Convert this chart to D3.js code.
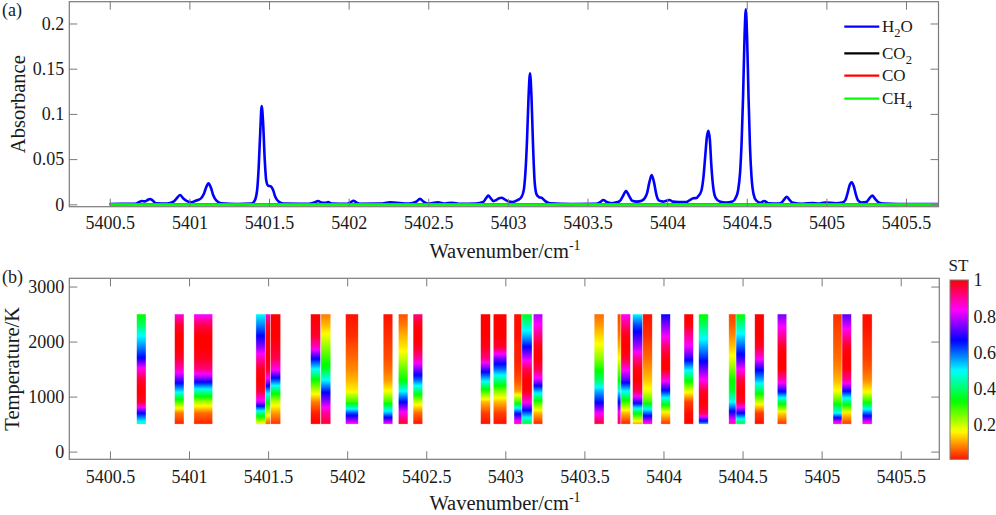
<!DOCTYPE html>
<html>
<head>
<meta charset="utf-8">
<title>Absorbance and ST</title>
<script src="https://d3js.org/d3.v7.min.js"></script>
<style>
  body { margin: 0; background: #fff; }
  svg text { font-family: "Liberation Serif", "Times New Roman", serif; fill: #1a1a1a; }
</style>
</head>
<body>
<div id="chart"></div>
<script>
// ---- data ----
const wnTicks = [5400.5, 5401, 5401.5, 5402, 5402.5, 5403, 5403.5, 5404, 5404.5, 5405, 5405.5];
const absTicks = [0, 0.05, 0.1, 0.15, 0.2];
const tempTicks = [0, 1000, 2000, 3000];
const stTicks = [0.2, 0.4, 0.6, 0.8, 1];

const species = ["H2O", "CO2", "CO", "CH4"];
const speciesColor = ["#0000ff", "#000000", "#ff0000", "#00ff00"];
const speciesLabel = [["H", "2", "O"], ["CO", "2", ""], ["CO", "", ""], ["CH", "4", ""]];

// H2O absorbance [wavenumber, absorbance]
const h2o = [
  [5400.50, 0.0004], [5400.66, 0.0006], [5400.685, 0.0025], [5400.701, 0.0036], [5400.722, 0.0032],
  [5400.740, 0.0050], [5400.753, 0.0059], [5400.768, 0.0045], [5400.790, 0.0012], [5400.860, 0.0008],
  [5400.900, 0.0030], [5400.920, 0.0065], [5400.941, 0.0103], [5400.962, 0.0065], [5400.985, 0.0035],
  [5401.015, 0.0022], [5401.040, 0.0040], [5401.058, 0.0050], [5401.075, 0.0070], [5401.092, 0.0120],
  [5401.105, 0.0185], [5401.120, 0.0232], [5401.135, 0.0185], [5401.150, 0.0100], [5401.170, 0.0040],
  [5401.200, 0.0012], [5401.300, 0.0004], [5401.390, 0.0008], [5401.410, 0.0040], [5401.425, 0.0150],
  [5401.435, 0.0400], [5401.445, 0.0800], [5401.454, 0.1087], [5401.463, 0.0900], [5401.473, 0.0500],
  [5401.483, 0.0260], [5401.495, 0.0205], [5401.510, 0.0200], [5401.525, 0.0160], [5401.540, 0.0080],
  [5401.560, 0.0030], [5401.590, 0.0008], [5401.750, 0.0006], [5401.790, 0.0022], [5401.808, 0.0037],
  [5401.830, 0.0020], [5401.855, 0.0018], [5401.871, 0.0025], [5401.895, 0.0008], [5401.990, 0.0006],
  [5402.015, 0.0025], [5402.030, 0.0040], [5402.048, 0.0022], [5402.070, 0.0006], [5402.200, 0.0008],
  [5402.260, 0.0022], [5402.380, 0.0008], [5402.425, 0.0030], [5402.448, 0.0060], [5402.470, 0.0030],
  [5402.495, 0.0008], [5402.561, 0.0022], [5402.605, 0.0008], [5402.649, 0.0018], [5402.700, 0.0006],
  [5402.800, 0.0008], [5402.845, 0.0025], [5402.862, 0.0065], [5402.877, 0.0096], [5402.893, 0.0065],
  [5402.910, 0.0035], [5402.925, 0.0045], [5402.945, 0.0068], [5402.961, 0.0073], [5402.980, 0.0055],
  [5403.005, 0.0030], [5403.030, 0.0025], [5403.060, 0.0045], [5403.085, 0.0080], [5403.100, 0.0160],
  [5403.110, 0.0350], [5403.120, 0.0700], [5403.130, 0.1200], [5403.139, 0.1450], [5403.148, 0.1200],
  [5403.158, 0.0650], [5403.168, 0.0250], [5403.180, 0.0110], [5403.195, 0.0080], [5403.213, 0.0070],
  [5403.235, 0.0035], [5403.265, 0.0010], [5403.400, 0.0004], [5403.550, 0.0006], [5403.580, 0.0025],
  [5403.599, 0.0048], [5403.620, 0.0025], [5403.650, 0.0012], [5403.690, 0.0025], [5403.705, 0.0040],
  [5403.722, 0.0090], [5403.742, 0.0147], [5403.762, 0.0090], [5403.780, 0.0040], [5403.810, 0.0030],
  [5403.840, 0.0040], [5403.860, 0.0070], [5403.875, 0.0130], [5403.888, 0.0240], [5403.903, 0.0324],
  [5403.918, 0.0240], [5403.932, 0.0110], [5403.950, 0.0040], [5403.975, 0.0030], [5404.000, 0.0042],
  [5404.014, 0.0048], [5404.035, 0.0030], [5404.070, 0.0025], [5404.120, 0.0025], [5404.145, 0.0050],
  [5404.164, 0.0066], [5404.185, 0.0070], [5404.195, 0.0090], [5404.215, 0.0150], [5404.228, 0.0300],
  [5404.240, 0.0550], [5404.250, 0.0750], [5404.259, 0.0814], [5404.268, 0.0720], [5404.278, 0.0420],
  [5404.290, 0.0180], [5404.305, 0.0070], [5404.330, 0.0030], [5404.370, 0.0020], [5404.410, 0.0030],
  [5404.430, 0.0070], [5404.445, 0.0150], [5404.458, 0.0350], [5404.468, 0.0700], [5404.477, 0.1200],
  [5404.486, 0.1850], [5404.494, 0.2157], [5404.502, 0.1850], [5404.511, 0.1200], [5404.520, 0.0650],
  [5404.530, 0.0300], [5404.543, 0.0110], [5404.560, 0.0040], [5404.585, 0.0018], [5404.610, 0.0036],
  [5404.635, 0.0012], [5404.700, 0.0008], [5404.725, 0.0030], [5404.738, 0.0060], [5404.751, 0.0084],
  [5404.766, 0.0055], [5404.785, 0.0020], [5404.850, 0.0006], [5404.916, 0.0015], [5404.950, 0.0008],
  [5404.992, 0.0020], [5405.060, 0.0012], [5405.100, 0.0020], [5405.120, 0.0050], [5405.134, 0.0130],
  [5405.146, 0.0210], [5405.159, 0.0243], [5405.172, 0.0200], [5405.185, 0.0110], [5405.200, 0.0040],
  [5405.220, 0.0020], [5405.250, 0.0025], [5405.268, 0.0060], [5405.288, 0.0096], [5405.306, 0.0060],
  [5405.325, 0.0025], [5405.360, 0.0008], [5405.450, 0.0004], [5405.700, 0.0004]
];
const co2 = [[5400.50, 0.0001], [5403.10, 0.0001], [5405.70, 0.0001]];
const co = [[5400.50, 0.0001], [5403.10, 0.0001], [5405.70, 0.0001]];
const ch4 = [[5400.50, 0.0000], [5403.10, 0.0000], [5405.70, 0.0000]];
const spectra = [h2o, co2, co, ch4];

// lower panel: line strips, edges in cm-1, ST sampled from 2500 K down to 500 K
const barTemps = [2500, 2300, 2100, 1900, 1700, 1500, 1300, 1100, 900, 700, 500];
const barLeft = [5400.669, 5400.909, 5401.031, 5401.423, 5401.482, 5401.516, 5401.769, 5401.834,
  5401.990, 5402.228, 5402.324, 5402.417, 5402.844, 5402.924, 5403.055, 5403.105, 5403.177,
  5403.562, 5403.709, 5403.731, 5403.805, 5403.869, 5403.984, 5404.130, 5404.223, 5404.413,
  5404.459, 5404.577, 5404.720, 5405.072, 5405.129, 5405.257];
const barRight = [5400.728, 5400.968, 5401.149, 5401.482, 5401.516, 5401.579, 5401.832, 5401.896,
  5402.070, 5402.288, 5402.384, 5402.477, 5402.905, 5403.009, 5403.105, 5403.169, 5403.236,
  5403.624, 5403.731, 5403.791, 5403.869, 5403.929, 5404.043, 5404.189, 5404.283, 5404.459,
  5404.517, 5404.636, 5404.779, 5405.129, 5405.188, 5405.319];
const barST = [
  [0.33, 0.40, 0.50, 0.58, 0.67, 0.85, 0.97, 1.00, 0.97, 0.67, 0.45],
  [0.85, 0.97, 1.00, 1.00, 0.97, 0.88, 0.72, 0.52, 0.28, 0.08, 0.02],
  [0.82, 0.95, 1.00, 1.00, 0.98, 0.92, 0.72, 0.45, 0.22, 0.07, 0.02],
  [0.50, 0.58, 0.67, 0.76, 0.88, 0.98, 1.00, 0.97, 0.80, 0.42, 0.15],
  [0.85, 0.97, 1.00, 1.00, 1.00, 0.98, 0.80, 0.55, 0.35, 0.20, 0.05],
  [1.00, 1.00, 1.00, 0.98, 0.95, 0.85, 0.62, 0.38, 0.20, 0.10, 0.03],
  [1.00, 0.99, 0.97, 0.87, 0.68, 0.50, 0.33, 0.20, 0.08, 0.02, 0.00],
  [0.08, 0.12, 0.18, 0.24, 0.30, 0.36, 0.50, 0.65, 0.77, 0.90, 0.97],
  [0.01, 0.02, 0.03, 0.05, 0.07, 0.09, 0.12, 0.16, 0.30, 0.62, 0.85],
  [0.01, 0.02, 0.03, 0.04, 0.05, 0.07, 0.10, 0.17, 0.30, 0.55, 0.85],
  [0.05, 0.08, 0.12, 0.15, 0.20, 0.27, 0.33, 0.50, 0.67, 0.85, 0.98],
  [0.92, 0.99, 1.00, 0.98, 0.90, 0.75, 0.60, 0.40, 0.20, 0.07, 0.01],
  [1.00, 1.00, 1.00, 0.98, 0.92, 0.72, 0.52, 0.30, 0.12, 0.04, 0.01],
  [1.00, 1.00, 1.00, 0.97, 0.75, 0.60, 0.42, 0.25, 0.12, 0.04, 0.01],
  [0.01, 0.01, 0.01, 0.02, 0.02, 0.03, 0.05, 0.10, 0.30, 0.65, 0.90],
  [0.35, 0.45, 0.55, 0.67, 0.80, 0.95, 1.00, 0.99, 0.85, 0.60, 0.35],
  [0.78, 0.84, 0.92, 0.99, 1.00, 0.95, 0.80, 0.55, 0.30, 0.12, 0.02],
  [0.07, 0.10, 0.14, 0.18, 0.24, 0.32, 0.40, 0.55, 0.66, 0.83, 0.97],
  [0.05, 0.06, 0.08, 0.12, 0.17, 0.25, 0.33, 0.50, 0.67, 0.85, 0.95],
  [0.83, 0.92, 0.99, 1.00, 0.97, 0.85, 0.72, 0.50, 0.30, 0.12, 0.02],
  [0.50, 0.62, 0.70, 0.78, 0.90, 0.99, 1.00, 0.95, 0.70, 0.35, 0.10],
  [0.01, 0.02, 0.03, 0.05, 0.07, 0.10, 0.13, 0.18, 0.30, 0.60, 0.88],
  [0.67, 0.75, 0.83, 0.93, 0.99, 1.00, 0.85, 0.65, 0.40, 0.15, 0.03],
  [1.00, 0.99, 0.90, 0.82, 0.70, 0.52, 0.35, 0.18, 0.04, 0.01, 0.00],
  [0.33, 0.40, 0.48, 0.56, 0.64, 0.74, 0.84, 0.97, 1.00, 0.95, 0.55],
  [0.04, 0.06, 0.09, 0.13, 0.18, 0.25, 0.33, 0.37, 0.50, 0.70, 0.90],
  [0.33, 0.43, 0.52, 0.61, 0.70, 0.83, 0.96, 1.00, 0.97, 0.67, 0.35],
  [1.00, 1.00, 1.00, 0.97, 0.85, 0.68, 0.55, 0.38, 0.20, 0.04, 0.01],
  [0.74, 0.82, 0.90, 0.98, 1.00, 1.00, 0.88, 0.68, 0.38, 0.14, 0.03],
  [0.03, 0.04, 0.05, 0.06, 0.07, 0.09, 0.12, 0.17, 0.30, 0.50, 0.90],
  [0.72, 0.80, 0.90, 0.98, 1.00, 0.99, 0.90, 0.67, 0.40, 0.15, 0.03],
  [0.01, 0.01, 0.02, 0.03, 0.04, 0.06, 0.09, 0.16, 0.32, 0.60, 0.88]
];

// ---- setup ----
const width = 996, height = 515;
const axisColor = "#7a7a7a";
const serif = '"Liberation Serif", "Times New Roman", serif';
const tickFont = 18, labelFont = 20.5;

const svg = d3.select("#chart").append("svg")
  .attr("width", width).attr("height", height)
  .attr("viewBox", `0 0 ${width} ${height}`)
  .style("font-family", serif);
const defs = svg.append("defs");

const xTop = d3.scaleLinear().domain([5400.246, 5405.704]).range([69.3, 938.5]);
const yTop = d3.scaleLinear().domain([-0.00265, 0.2241]).range([206.7, 1.7]);
const xBot = d3.scaleLinear().domain([5400.243, 5405.744]).range([69.3, 939.3]);
const yBot = d3.scaleLinear().domain([-140, 3150]).range([459.3, 278.3]);
const yCb = d3.scaleLinear().domain([0.012, 1]).range([459.3, 280]);

// MATLAB hsv colormap
const hsv = t => d3.hsl(Math.max(0, Math.min(1, t)) * 360, 1, 0.5).formatHex();

function drawAxes(x, y, xTicks, yTicks, xPad) {
  const [x0, x1] = x.range();
  const [y0, y1] = y.range();
  const g = svg.append("g");
  const fmt = d3.format("");

  const styleAxis = sel => {
    sel.attr("font-family", null).attr("font-size", null);
    sel.select(".domain").remove();
    sel.selectAll("line").attr("stroke", axisColor).attr("stroke-width", 1);
    sel.selectAll("text")
      .style("font-family", serif)
      .style("font-size", tickFont + "px")
      .attr("fill", "#1a1a1a");
  };

  g.append("g").attr("transform", `translate(0,${y0})`)
    .call(d3.axisBottom(x).tickValues(xTicks).tickSize(-8).tickSizeOuter(0).tickPadding(xPad).tickFormat(fmt))
    .call(styleAxis);
  g.append("g").attr("transform", `translate(0,${y1})`)
    .call(d3.axisTop(x).tickValues(xTicks).tickSize(-8).tickSizeOuter(0).tickFormat(() => ""))
    .call(styleAxis);
  g.append("g").attr("transform", `translate(${x0},0)`)
    .call(d3.axisLeft(y).tickValues(yTicks).tickSize(-8).tickSizeOuter(0).tickPadding(5).tickFormat(fmt))
    .call(styleAxis);
  g.append("g").attr("transform", `translate(${x1},0)`)
    .call(d3.axisRight(y).tickValues(yTicks).tickSize(-8).tickSizeOuter(0).tickFormat(() => ""))
    .call(styleAxis);

  g.append("rect")
    .attr("x", x0).attr("y", y1)
    .attr("width", x1 - x0).attr("height", y0 - y1)
    .attr("fill", "none").attr("stroke", axisColor).attr("stroke-width", 1.2);
}

// ---- (a) absorbance ----
const line = d3.line().curve(d3.curveMonotoneX)
  .x(d => xTop(d[0]))
  .y(d => yTop(d[1]));

svg.append("g").selectAll("path")
  .data(spectra)
  .enter().append("path")
  .attr("d", line)
  .attr("fill", "none")
  .attr("stroke", (d, i) => speciesColor[i])
  .attr("stroke-width", (d, i) => i === 0 ? 2.6 : 2.2)
  .attr("stroke-linejoin", "round");

drawAxes(xTop, yTop, wnTicks, absTicks, 9.5);

// legend
const legendRowY = [26.7, 53.3, 75.7, 98.7];
const legend = svg.append("g").attr("class", "legend");
species.forEach((s, i) => {
  legend.append("line")
    .attr("x1", 844.3).attr("x2", 879.3)
    .attr("y1", legendRowY[i]).attr("y2", legendRowY[i])
    .attr("stroke", speciesColor[i]).attr("stroke-width", 2.2);
  const t = legend.append("text")
    .attr("x", 882).attr("y", legendRowY[i] + 5.5)
    .style("font-size", "17px");
  const [main, sub, rest] = speciesLabel[i];
  t.append("tspan").text(main);
  if (sub) t.append("tspan").attr("dy", 5).style("font-size", "12.5px").text(sub);
  if (rest) t.append("tspan").attr("dy", -5).text(rest);
});

// ---- (b) ST strips ----
barST.forEach((vals, i) => {
  const grad = defs.append("linearGradient")
    .attr("id", `strip${i}`)
    .attr("x1", 0).attr("y1", 0).attr("x2", 0).attr("y2", 1);
  const top = yBot(barTemps[0]);
  const span = yBot(barTemps[barTemps.length - 1]) - top;
  for (let k = 0; k < vals.length - 1; k++) {
    const steps = 8;
    for (let s = 0; s < steps; s++) {
      const f = s / steps;
      const yy = yBot(barTemps[k]) + f * (yBot(barTemps[k + 1]) - yBot(barTemps[k]));
      grad.append("stop")
        .attr("offset", (yy - top) / span)
        .attr("stop-color", hsv(vals[k] + f * (vals[k + 1] - vals[k])));
    }
  }
  grad.append("stop").attr("offset", 1).attr("stop-color", hsv(vals[vals.length - 1]));
});

svg.append("g").selectAll("rect")
  .data(barST)
  .enter().append("rect")
  .attr("x", (d, i) => xBot(barLeft[i]))
  .attr("width", (d, i) => xBot(barRight[i]) - xBot(barLeft[i]))
  .attr("y", yBot(barTemps[0]))
  .attr("height", yBot(barTemps[barTemps.length - 1]) - yBot(barTemps[0]))
  .attr("fill", (d, i) => `url(#strip${i})`)
  .attr("stroke", "rgba(255,255,255,0.55)")
  .attr("stroke-width", 0.6);

drawAxes(xBot, yBot, wnTicks, tempTicks, 11);

// colorbar
const cbGrad = defs.append("linearGradient")
  .attr("id", "cbGrad")
  .attr("x1", 0).attr("y1", 0).attr("x2", 0).attr("y2", 1);
const cbDomain = yCb.domain();
d3.range(0, 61).forEach(k => {
  const v = cbDomain[1] - (k / 60) * (cbDomain[1] - cbDomain[0]);
  cbGrad.append("stop").attr("offset", k / 60).attr("stop-color", hsv(v));
});
svg.append("rect")
  .attr("x", 950).attr("y", yCb(1))
  .attr("width", 18.3).attr("height", yCb(cbDomain[0]) - yCb(1))
  .attr("fill", "url(#cbGrad)")
  .attr("stroke", axisColor).attr("stroke-width", 1);

svg.append("g").selectAll("text")
  .data(stTicks)
  .enter().append("text")
  .attr("x", 973.5)
  .attr("y", d => yCb(d))
  .attr("dy", "0.35em")
  .style("font-size", tickFont + "px")
  .text(d => d);

svg.append("text")
  .attr("x", 958.5).attr("y", 271)
  .attr("text-anchor", "middle")
  .style("font-size", "17px")
  .text("ST");

// ---- labels ----
function xLabel(yPos) {
  const t = svg.append("text")
    .attr("x", 505).attr("y", yPos)
    .attr("text-anchor", "middle")
    .style("font-size", labelFont + "px");
  t.append("tspan").text("Wavenumber/cm");
  t.append("tspan").attr("dy", -8).style("font-size", "14px").text("-1");
}
xLabel(258);
xLabel(510);

svg.append("text")
  .attr("transform", `translate(24.5,${(yTop.range()[0] + yTop.range()[1]) / 2}) rotate(-90)`)
  .attr("text-anchor", "middle")
  .style("font-size", labelFont + "px")
  .text("Absorbance");

svg.append("text")
  .attr("transform", `translate(19,${(yBot.range()[0] + yBot.range()[1]) / 2}) rotate(-90)`)
  .attr("text-anchor", "middle")
  .style("font-size", labelFont + "px")
  .text("Temperature/K");

svg.append("text").attr("x", 2).attr("y", 16).style("font-size", "18px").text("(a)");
svg.append("text").attr("x", 2).attr("y", 283).style("font-size", "18px").text("(b)");
</script>
</body>
</html>
